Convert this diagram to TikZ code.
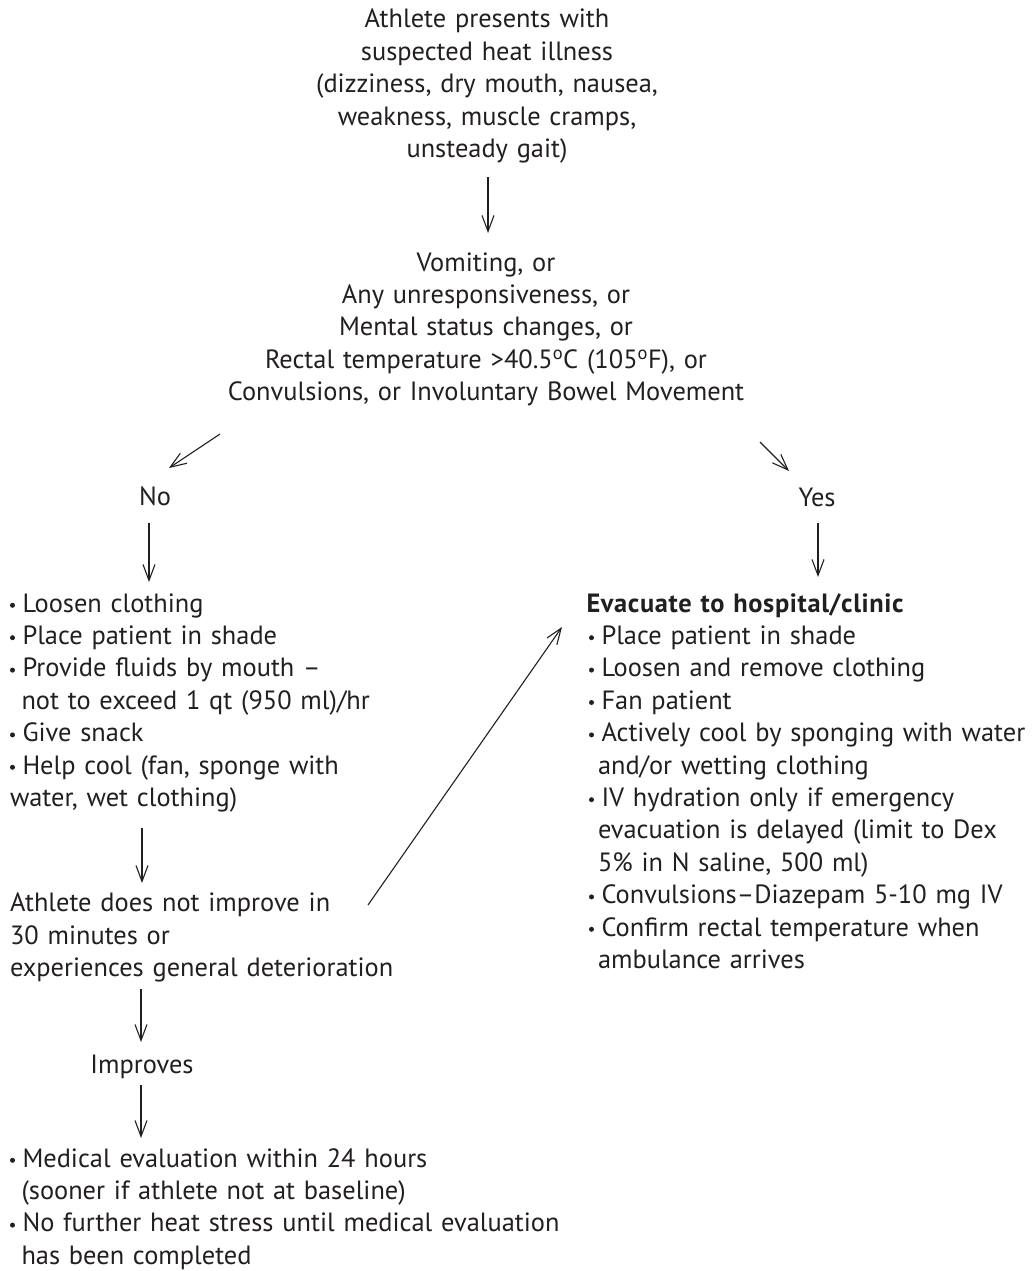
\documentclass[tikz,border=0pt]{standalone}
\usepackage{fontspec}
\setmainfont{PT Sans}
\usetikzlibrary{arrows.meta}
\definecolor{ink}{RGB}{35,31,32}
\newcommand\bul{\makebox[12.5pt][l]{\raisebox{4.2pt}{\tikz\fill[ink] (0,0) circle[radius=2.5pt];}}}
\newcommand\ind{\hspace*{11.5pt}}
\newcommand\indr{\hspace*{9pt}}
\newcommand\dg{\textsuperscript{o}}
\begin{document}
\begin{tikzpicture}[x=1pt,y=-1pt,
  txt/.style={inner sep=0pt,outer sep=0pt,text=ink,font=\fontsize{26.4}{32.4}\selectfont,anchor=base},
  ctr/.style={txt,align=center,text width=#1},
  lft/.style={txt,align=left,text width=#1,anchor=base west},
  arr/.style={draw=ink,line width=1.1pt,-{Straight Barb[length=16pt,width=12pt]}}]
\fill[white] (0,0) rectangle (1031,1271);
\useasboundingbox (0,0) rectangle (1031,1271);

\node[ctr=560pt] (top) at (487,28) {Athlete presents with\\suspected heat illness\\(dizziness, dry mouth, nausea,\\weakness, muscle cramps,\\unsteady gait)};
\node[ctr=600pt] (q) at (486,271) {Vomiting, or\\Any unresponsiveness, or\\Mental status changes, or\\Rectal temperature >40.5\dg C (105\dg F), or\\Convulsions, or Involuntary Bowel Movement};
\node[txt] (no) at (155,505) {No};
\node[txt] (yes) at (817,506) {Yes};
\node[lft=420pt] (L) at (10,612) {\bul Loosen clothing\\\bul Place patient in shade\\\bul Provide fluids by mouth –\\\ind not to exceed 1 qt (950 ml)/hr\\\bul Give snack\\\bul Help cool (fan, sponge with\\water, wet clothing)};
\node[lft=440pt] (R) at (589,612) {\hspace*{-2.5pt}{\bfseries\addfontfeature{LetterSpace=2.5}Evacuate to hospital/clinic}\\\bul Place patient in shade\\\bul Loosen and remove clothing\\\bul Fan patient\\\bul Actively cool by sponging with water\\\indr and/or wetting clothing\\\bul IV hydration only if emergency\\\indr evacuation is delayed (limit to Dex\\\indr 5\% in N saline, 500 ml)\\\bul Convulsions–Diazepam 5-10 mg IV\\\bul Confirm rectal temperature when\\\indr ambulance arrives};
\node[lft=420pt] (ath) at (10,911.6) {Athlete does not improve in\\30 minutes or\\experiences general deterioration};
\node[txt] (imp) at (142,1073) {Improves};
\node[lft=560pt] (B) at (10,1167) {\bul Medical evaluation within 24 hours\\\ind(sooner if athlete not at baseline)\\\bul No further heat stress until medical evaluation\\\ind has been completed};

\draw[arr] ([shift={(1,149)}]top.base) -- ([shift={(2,-38)}]q.base);
\draw[arr] ([shift={(-266,163)}]q.base) -- ([shift={(14,-37)}]no.base);
\draw[arr] ([shift={(274,171)}]q.base) -- ([shift={(-28,-35)}]yes.base);
\draw[arr] ([shift={(-6,18)}]no.base) -- ([shift={(139,-30)}]L.base west);
\draw[arr] ([shift={(1,17)}]yes.base) -- ([shift={(229,-35)}]R.base west);
\draw[arr] ([shift={(132,216)}]L.base west) -- ([shift={(132,-28.6)}]ath.base west);
\draw[arr] ([shift={(358,-6.6)}]ath.base west) -- ([shift={(-27,15)}]R.base west);
\draw[arr] ([shift={(131,77.4)}]ath.base west) -- ([shift={(-1,-31)}]imp.base);
\draw[arr] ([shift={(-1,12)}]imp.base) -- ([shift={(131,-29)}]B.base west);
\end{tikzpicture}
\end{document}
